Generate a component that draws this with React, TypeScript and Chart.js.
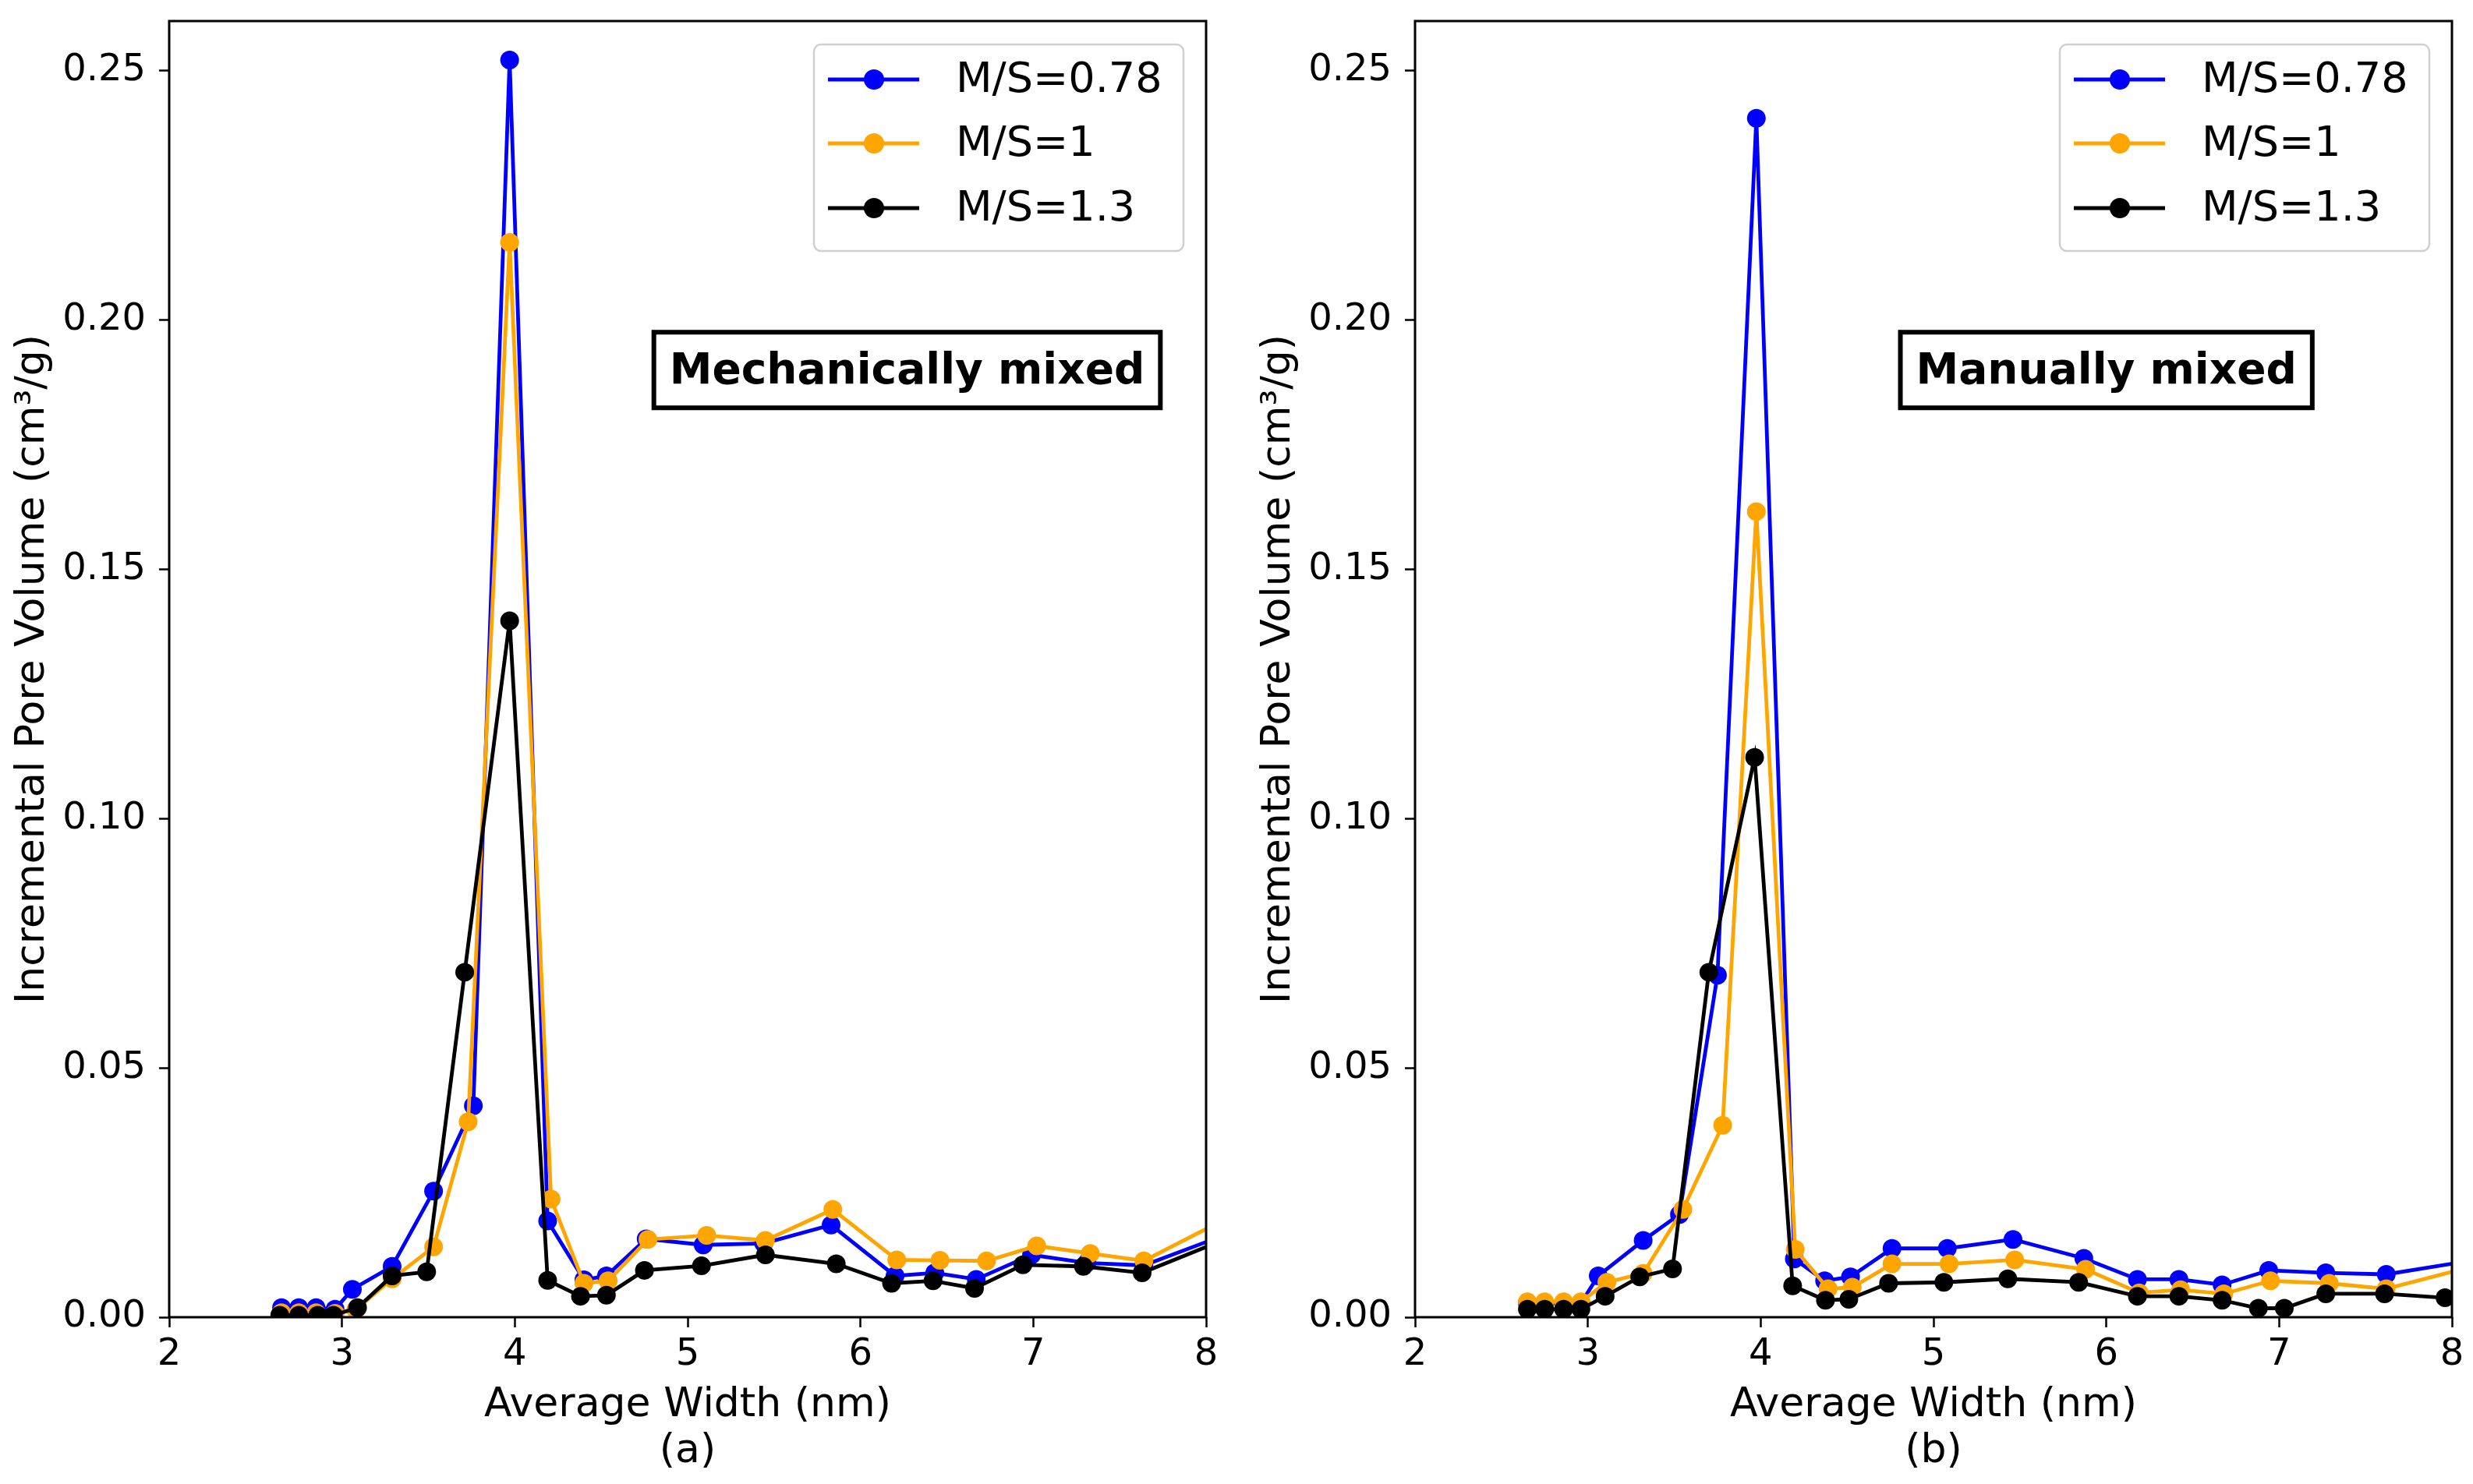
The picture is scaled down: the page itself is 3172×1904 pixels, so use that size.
import React, { useEffect, useRef } from 'react'
import { Chart, registerables } from 'chart.js'

Chart.register(...registerables)

Chart.defaults.font.family = '"DejaVu Sans", sans-serif'
Chart.defaults.color = '#000'

const seriesLabels = ['M/S=0.78', 'M/S=1', 'M/S=1.3']
const seriesColors = ['#0000ff', '#ffa500', '#000000']

const xTicks = [2, 3, 4, 5, 6, 7, 8]
const yTicks = [0, 0.05, 0.1, 0.15, 0.2, 0.25]

// (a) mechanically mixed
const mechX078 = [2.65, 2.75, 2.85, 2.96, 3.06, 3.29, 3.53, 3.76, 3.97, 4.19, 4.4, 4.53, 4.76, 5.09, 5.44, 5.83, 6.2, 6.43, 6.67, 6.99, 7.31, 7.64, 8.1]
const mechY078 = [0.0019, 0.0019, 0.0019, 0.0016, 0.0056, 0.0102, 0.0253, 0.0424, 0.2522, 0.0193, 0.0075, 0.0083, 0.0157, 0.0145, 0.0148, 0.0185, 0.0083, 0.0089, 0.0076, 0.0125, 0.0109, 0.0104, 0.0164]
const mechX1 = [2.65, 2.75, 2.85, 2.96, 3.08, 3.29, 3.53, 3.73, 3.97, 4.21, 4.4, 4.54, 4.77, 5.11, 5.45, 5.84, 6.21, 6.46, 6.73, 7.02, 7.33, 7.64, 8.1]
const mechY1 = [0.0009, 0.0009, 0.0009, 0.0008, 0.0015, 0.0077, 0.0141, 0.0392, 0.2156, 0.0237, 0.0068, 0.0073, 0.0156, 0.0164, 0.0154, 0.0216, 0.0115, 0.0114, 0.0113, 0.0143, 0.0128, 0.0113, 0.0195]
const mechX13 = [2.64, 2.75, 2.86, 2.95, 3.09, 3.29, 3.49, 3.71, 3.97, 4.19, 4.38, 4.53, 4.75, 5.08, 5.45, 5.86, 6.18, 6.42, 6.66, 6.94, 7.29, 7.63, 8.1]
const mechY13 = [0.0004, 0.0004, 0.0004, 0.0004, 0.0019, 0.0083, 0.0091, 0.0692, 0.1397, 0.0074, 0.0042, 0.0044, 0.0094, 0.0103, 0.0125, 0.0107, 0.0068, 0.0073, 0.0058, 0.0105, 0.0102, 0.0089, 0.0155]

// (b) manually mixed
const manX078 = [2.65, 2.75, 2.86, 2.96, 3.06, 3.32, 3.53, 3.75, 3.975, 4.195, 4.37, 4.52, 4.76, 5.08, 5.46, 5.87, 6.18, 6.42, 6.67, 6.94, 7.27, 7.62, 8.1]
const manY078 = [0.0028, 0.0028, 0.0028, 0.0028, 0.0083, 0.0154, 0.0206, 0.0686, 0.2405, 0.0117, 0.0073, 0.0081, 0.0138, 0.0138, 0.0156, 0.0118, 0.0076, 0.0076, 0.0065, 0.0094, 0.0089, 0.0086, 0.0113]
const manX1 = [2.65, 2.75, 2.86, 2.96, 3.11, 3.32, 3.55, 3.78, 3.975, 4.2, 4.39, 4.53, 4.76, 5.09, 5.47, 5.88, 6.19, 6.43, 6.68, 6.95, 7.29, 7.62, 8.1]
const manY1 = [0.0031, 0.0031, 0.0031, 0.0031, 0.007, 0.0088, 0.0216, 0.0385, 0.1616, 0.0136, 0.0057, 0.006, 0.0107, 0.0107, 0.0115, 0.0096, 0.0049, 0.0055, 0.0047, 0.0073, 0.0068, 0.0057, 0.01]
const manX13 = [2.65, 2.75, 2.86, 2.96, 3.1, 3.3, 3.49, 3.7, 3.965, 4.185, 4.375, 4.51, 4.74, 5.06, 5.43, 5.84, 6.18, 6.42, 6.67, 6.88, 7.03, 7.27, 7.61, 7.96]
const manY13 = [0.0016, 0.0016, 0.0016, 0.0016, 0.0042, 0.0081, 0.0097, 0.0692, 0.1123, 0.0063, 0.0034, 0.0036, 0.0068, 0.007, 0.0077, 0.007, 0.0042, 0.0042, 0.0034, 0.0018, 0.0018, 0.0047, 0.0047, 0.0039]

const PLOT_RIGHT = 1547
const PLOT_BOTTOM = 1690

const framePlugin = {
  id: 'frame',
  afterDatasetsDraw(chart: any) {
    const { ctx, chartArea: a } = chart
    ctx.save()
    ctx.strokeStyle = '#000'
    ctx.lineWidth = 3
    ctx.strokeRect(a.left, a.top, a.right - a.left, a.bottom - a.top)
    ctx.restore()
  },
}

const legendPlugin = {
  id: 'boxLegend',
  afterDraw(chart: any) {
    const { ctx, chartArea: a } = chart
    const w = 474
    const h = 265
    const left = a.right - 29 - w
    const top = a.top + 30
    ctx.save()
    ctx.beginPath()
    ctx.roundRect(left, top, w, h, 9)
    ctx.fillStyle = 'rgba(255,255,255,0.85)'
    ctx.fill()
    ctx.strokeStyle = '#d0d0d0'
    ctx.lineWidth = 2.5
    ctx.stroke()
    const rows = [45, 127, 210]
    chart.data.datasets.forEach((ds: any, i: number) => {
      const y = top + rows[i]
      ctx.strokeStyle = ds.borderColor
      ctx.lineWidth = 4.8
      ctx.beginPath()
      ctx.moveTo(left + 18, y)
      ctx.lineTo(left + 135, y)
      ctx.stroke()
      ctx.fillStyle = ds.borderColor
      ctx.beginPath()
      ctx.arc(left + 77, y, 13, 0, Math.PI * 2)
      ctx.fill()
      ctx.fillStyle = '#000'
      ctx.font = '54px "DejaVu Sans"'
      ctx.textBaseline = 'middle'
      ctx.textAlign = 'left'
      ctx.fillText(ds.label, left + 182, y + 2)
    })
    ctx.restore()
  },
}

const textboxPlugin = {
  id: 'textbox',
  afterDraw(chart: any, _args: any, opts: any) {
    if (!opts || !opts.text) return
    const { ctx, scales } = chart
    const cx = scales.x.getPixelForValue(opts.x)
    const cy = scales.y.getPixelForValue(opts.y)
    ctx.save()
    ctx.font = 'bold 55px "DejaVu Sans"'
    const tw = ctx.measureText(opts.text).width
    const w = tw + 40
    const h = 97
    ctx.fillStyle = '#fff'
    ctx.fillRect(cx - w / 2, cy - h / 2, w, h)
    ctx.strokeStyle = '#000'
    ctx.lineWidth = 6
    ctx.strokeRect(cx - w / 2, cy - h / 2, w, h)
    ctx.fillStyle = '#000'
    ctx.textAlign = 'center'
    ctx.textBaseline = 'middle'
    ctx.fillText(opts.text, cx, cy + 3)
    ctx.restore()
  },
}

interface PanelProps {
  xs: number[][]
  ys: number[][]
  label: string
  boxText: string
  boxX: number
  boxY: number
  left: number
  width: number
}

function Panel({ xs, ys, label, boxText, boxX, boxY, left, width }: PanelProps) {
  const canvasRef = useRef<HTMLCanvasElement>(null)

  useEffect(() => {
    if (!canvasRef.current) return
    const tickGrid = {
      drawOnChartArea: false,
      drawTicks: true,
      tickLength: 13,
      tickWidth: 2.5,
      tickColor: '#000',
    }
    const chart = new Chart(canvasRef.current, {
      type: 'line',
      data: {
        datasets: xs.map((xv, i) => ({
          label: seriesLabels[i],
          data: xv.map((x, j) => ({ x, y: ys[i][j] })),
          borderColor: seriesColors[i],
          backgroundColor: seriesColors[i],
          pointBackgroundColor: seriesColors[i],
          pointBorderWidth: 0,
          pointRadius: 12,
          borderWidth: 4.8,
          tension: 0,
          order: 3 - i,
        })),
      },
      options: {
        responsive: false,
        animation: false,
        events: [],
        layout: { padding: { top: 27, right: width - PLOT_RIGHT, left: 0, bottom: 0 } },
        plugins: {
          legend: { display: false },
          tooltip: { enabled: false },
          textbox: { text: boxText, x: boxX, y: boxY },
        } as any,
        scales: {
          x: {
            type: 'linear',
            min: 2,
            max: 8,
            afterBuildTicks: (s: any) => {
              s.ticks = xTicks.map(v => ({ value: v }))
            },
            afterFit: (s: any) => {
              s.height = 1904 - PLOT_BOTTOM
              s.paddingLeft = 0
              s.paddingRight = 0
            },
            ticks: {
              font: { size: 48, lineHeight: 1.1 },
              color: '#000',
              padding: 9,
              maxRotation: 0,
              callback: (v: any) => String(v),
            },
            grid: tickGrid,
            border: { display: false },
            title: {
              display: true,
              text: ['Average Width (nm)', label],
              font: { size: 52, lineHeight: 1.135 },
              color: '#000',
              padding: { top: 0, bottom: 12 },
            },
          },
          y: {
            type: 'linear',
            min: 0,
            max: 0.26,
            afterBuildTicks: (s: any) => {
              s.ticks = yTicks.map(v => ({ value: v }))
            },
            afterFit: (s: any) => {
              s.width = 217
              s.paddingTop = 0
              s.paddingBottom = 0
            },
            ticks: {
              font: { size: 48, lineHeight: 1.1 },
              color: '#000',
              padding: 17,
              callback: (v: any) => Number(v).toFixed(2),
            },
            grid: tickGrid,
            border: { display: false },
            title: {
              display: true,
              text: 'Incremental Pore Volume (cm³/g)',
              font: { size: 52 },
              color: '#000',
              padding: { top: 11, bottom: 0 },
            },
          },
        },
      },
      plugins: [framePlugin, legendPlugin, textboxPlugin],
    })
    return () => chart.destroy()
  }, [])

  return (
    <canvas
      ref={canvasRef}
      width={width}
      height={1904}
      style={{ position: 'absolute', left, top: 0, width, height: 1904 }}
    />
  )
}

export default function App() {
  return (
    <div
      style={{
        position: 'fixed',
        left: 0,
        top: 0,
        width: 3172,
        height: 1904,
        background: '#fff',
        overflow: 'hidden',
      }}
    >
      <Panel
        xs={[mechX078, mechX1, mechX13]}
        ys={[mechY078, mechY1, mechY13]}
        label="(a)"
        boxText="Mechanically mixed"
        boxX={6.27}
        boxY={0.19}
        left={0}
        width={1590}
      />
      <Panel
        xs={[manX078, manX1, manX13]}
        ys={[manY078, manY1, manY13]}
        label="(b)"
        boxText="Manually mixed"
        boxX={6.0}
        boxY={0.19}
        left={1598}
        width={1574}
      />
    </div>
  )
}
